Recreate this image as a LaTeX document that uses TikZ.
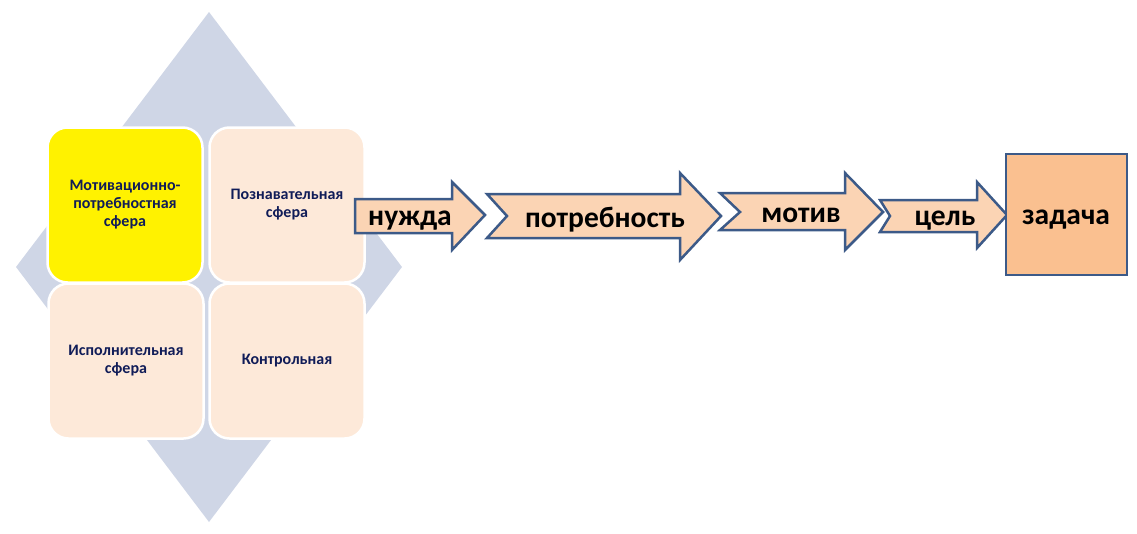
\documentclass[tikz,border=0pt]{standalone}
\usepackage{fontspec}
\setmainfont{Carlito}
\usepackage{xcolor}
\definecolor{diamondgray}{HTML}{CFD6E6}
\definecolor{sphere}{HTML}{FDE9D9}
\definecolor{navytext}{RGB}{16,28,88}
\definecolor{arrowfill}{HTML}{FBD4B4}
\definecolor{arrowline}{HTML}{3C5A88}
\definecolor{taskfill}{HTML}{FAC090}

\begin{document}
\begin{tikzpicture}[x=1pt,y=-1pt,
  spherebox/.style={rectangle,rounded corners=20pt,draw=white,line width=2.5pt,
    fill=sphere,minimum width=155pt,minimum height=155pt,text width=145pt,
    align=center,text=navytext,font=\bfseries\fontsize{16}{18}\selectfont},
  arrowshape/.style={fill=arrowfill,draw=arrowline,line width=2.5pt,line join=miter},
  arrowtext/.style={anchor=base,font=\bfseries\fontsize{29.5}{33}\selectfont}]
\useasboundingbox (0,0) rectangle (1137,533);
% background diamond
\fill[diamondgray] (209,12) -- (402,267) -- (209,522) -- (16,267) -- cycle;
% spheres
\node[spherebox,fill=yellow] (motiv) at (125,205) {Мотивационно-\\потребностная\\сфера};
\node[spherebox] (poznav) at (287,205) {Познавательная\\сфера};
\node[spherebox] (ispoln) at (126,361) {Исполнительная\\сфера};
\node[spherebox] (kontrol) at (287,361) {Контрольная};
% arrows
\draw[arrowshape] (355,199) -- (452,199) -- (452,182) -- (485,215) -- (452,250)
  -- (452,233) -- (355,233) -- cycle;
\draw[arrowshape] (487,194) -- (680,194) -- (680,173) -- (721,216) -- (680,260)
  -- (680,238) -- (487,238) -- (507,216) -- cycle;
\draw[arrowshape] (720,193) -- (845,193) -- (845,173) -- (883,212) -- (845,250)
  -- (845,230) -- (720,230) -- (740,212) -- cycle;
\draw[arrowshape] (880,200) -- (977,200) -- (977,182) -- (1007,215) -- (977,248)
  -- (977,232) -- (880,232) -- (890,216) -- cycle;
% task box
\draw[arrowshape,fill=taskfill] (1006,154) rectangle (1127,275);
% labels
\node[arrowtext] (nuzhda) at (410,225) {нужда};
\node[arrowtext] (potreb) at (605,227) {потребность};
\node[arrowtext] (motive) at (801,222) {мотив};
\node[arrowtext] (cel) at (945,225) {цель};
\node[arrowtext] (zadacha) at (1066,224) {задача};
\end{tikzpicture}
\end{document}
